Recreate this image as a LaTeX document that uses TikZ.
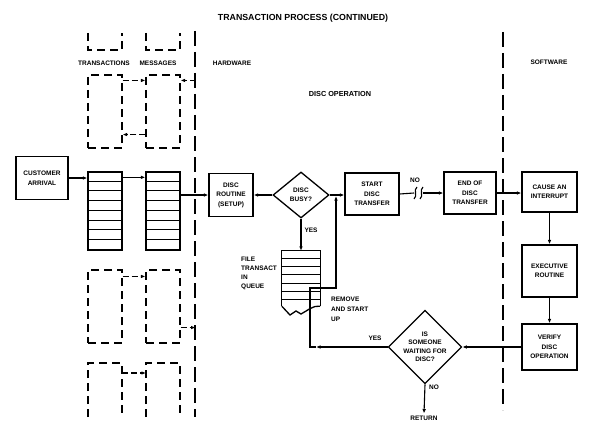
\documentclass[tikz,border=0pt]{standalone}
\usepackage{fontspec}
\setmainfont{Liberation Sans}
\usetikzlibrary{arrows.meta,shapes.geometric,calc}
\begin{document}
\begin{tikzpicture}[x=1pt,y=-1pt,
  txt/.style={font=\fontsize{6.5}{9}\selectfont\bfseries, inner sep=0pt, align=center},
  box/.style={draw, line width=1.3pt, inner sep=1pt, align=center, font=\fontsize{6.5}{9.5}\selectfont\bfseries},
  queue/.style={draw, line width=1.3pt, inner sep=0pt, minimum width=34pt, minimum height=78pt},
  rowline/.style={line width=0.9pt},
  ln/.style={line width=1.1pt},
  arr/.style={line width=1.1pt, -{Latex[length=4.5pt,width=3.6pt]}},
  dbox/.style={draw, line width=1.1pt, dash pattern=on 8pt off 5pt, inner sep=0pt, minimum width=34pt, minimum height=73pt},
  dln/.style={line width=1.1pt, dash pattern=on 8pt off 5pt},
  darr/.style={line width=1.1pt, dash pattern=on 6pt off 3pt, -{Latex[length=4.5pt,width=3.6pt]}},
  divider/.style={line width=1.5pt, dash pattern=on 15pt off 6pt},
  dmd/.style={draw, diamond, line width=1.3pt, inner sep=0pt, align=center, font=\fontsize{6.5}{8.5}\selectfont\bfseries}]
\useasboundingbox (0,0) rectangle (591,433);

% title and headings
\node[txt, font=\fontsize{8.8}{9}\selectfont\bfseries] (title) at (303,18) {TRANSACTION PROCESS (CONTINUED)};
\node[txt] (ltrans) at (104,63) {TRANSACTIONS};
\node[txt] (lmsg) at (158,63) {MESSAGES};
\node[txt] (lhw) at (232,63) {HARDWARE};
\node[txt] (lsw) at (549,62) {SOFTWARE};
\node[txt, font=\fontsize{7.3}{9}\selectfont\bfseries] (ldisc) at (340,94) {DISC OPERATION};

% dividers
\coordinate (dv1a) at (195,31);
\coordinate (dv1b) at (195,417);
\coordinate (dv2a) at (503,32);
\coordinate (dv2b) at (503,410);
\draw[divider] (dv1a) -- (dv1b);
\draw[divider] (dv2a) -- (dv2b);

% dashed boxes (other transactions / messages)
\draw[dln] (88,33) -- (88,50) -- (122,50) -- (122,33);
\draw[dln] (146,33) -- (146,50) -- (180,50) -- (180,33);
\node[dbox] (t2) at (105,111.5) {};
\node[dbox] (m2) at (163,111.5) {};
\draw[darr] ($(t2.north east)+(0,6)$) -- ($(m2.north west)+(0,6)$);
\draw[darr] ($(m2.north east)+(15,6)$) -- ($(m2.north east)+(0,6)$);
\draw[darr] ($(m2.south west)+(0,-14)$) -- ($(t2.south east)+(0,-14)$);
\node[dbox] (t3) at (105,306.5) {};
\node[dbox] (m3) at (163,306.5) {};
\draw[darr] ($(t3.north east)+(0,7)$) -- ($(m3.north west)+(0,7)$);
\draw[darr] ($(m3.south east)+(0,-16)$) -- ($(m3.south east)+(15,-16)$);
\draw[dln] (88,417) -- (88,363) -- (122,363) -- (122,417);
\draw[dln] (146,417) -- (146,363) -- (180,363) -- (180,417);
\coordinate (p4l) at (122,373);
\coordinate (p4r) at (146,373);
\draw[darr] (p4l) -- (p4r);

% main row
\node[box, minimum width=52pt, minimum height=43pt] (cust) at (42,178) {CUSTOMER\\ARRIVAL};
\node[queue] (q1) at (105,211) {};
\node[queue] (q2) at (163,211) {};
\foreach \q in {q1,q2}{
  \foreach \i in {1,...,7}{
    \draw[rowline] ($(\q.north west)+(0,\i*9.75)$) -- ($(\q.north east)+(0,\i*9.75)$);
  }
}
\node[box, minimum width=44pt, minimum height=43pt] (routine) at (231,195) {DISC\\ROUTINE\\(SETUP)};
\node[dmd, minimum width=56pt, minimum height=46pt] (busy) at (301,195) {DISC\\BUSY?};
\node[box, minimum width=54pt, minimum height=42pt] (start) at (372,194) {START\\DISC\\TRANSFER};
\node[box, minimum width=52pt, minimum height=42pt] (endd) at (470,193) {END OF\\DISC\\TRANSFER};
\node[box, minimum width=55pt, minimum height=40pt] (cause) at (549.5,192) {CAUSE AN\\INTERRUPT};
\node[box, minimum width=55pt, minimum height=52pt] (exec) at (549.5,271) {EXECUTIVE\\ROUTINE};
\node[box, minimum width=55pt, minimum height=46pt] (verify) at (549.5,347) {VERIFY\\DISC\\OPERATION};
\node[dmd, minimum width=70pt, minimum height=60pt] (wait) at (425,347) {IS\\SOMEONE\\WAITING FOR\\DISC?};
\node[txt, inner sep=2pt] (ret) at (424,418) {RETURN};

% file queue
\node[inner sep=0pt, minimum width=38pt, minimum height=55pt] (fq) at (301,278.5) {};
\draw[line width=1.3pt] (fq.south west) -- (fq.north west) -- (fq.north east) -- (fq.south east);
\foreach \d in {8,16,24,33,41,49}{
  \draw[rowline] ($(fq.north west)+(0,\d)$) -- ($(fq.north east)+(0,\d)$);
}
\draw[line width=1.3pt] (fq.south west) -- (290,315) -- (296,311) -- (301,314)
  .. controls (307,311) and (313,305) .. (fq.south east);
\node[txt, align=left, anchor=north west, font=\fontsize{6.5}{9}\selectfont\bfseries] (lfq) at (241,257) {FILE\\TRANSACT\\IN\\QUEUE};
\node[txt, align=left, anchor=north west, font=\fontsize{6.5}{10}\selectfont\bfseries] (lrem) at (331,297) {REMOVE\\AND START\\UP};

% connectors
\draw[arr] (cust.east) -- (cust.east -| q1.west);
\draw[arr] ($(q1.north east)+(0,6)$) -- ($(q2.north west)+(0,6)$);
\draw[arr] (routine.west -| q2.east) -- (routine.west);
\draw[arr] (busy.west) -- (routine.east);
\draw[arr] (busy.east) -- (busy.east -| start.west);
\draw[arr] (busy.south) -- (fq.north);
\node[txt] (lyes1) at (311,230) {YES};

\coordinate (b1) at (414,193);
\draw[ln] (start.east) -- (b1);
\draw[ln] ($(b1)+(0,6)$) .. controls ($(b1)+(4,3)$) and ($(b1)+(-1,-3)$) .. ($(b1)+(3,-6)$);
\draw[ln] ($(b1)+(6,6)$) .. controls ($(b1)+(10,3)$) and ($(b1)+(5,-3)$) .. ($(b1)+(9,-6)$);
\draw[arr] ($(b1)+(9,0)$) -- (endd.west);
\node[txt] (lno1) at (415,180) {NO};

\draw[arr] (endd.east) -- (endd.east -| cause.west);
\draw[arr] (cause.south) -- (exec.north);
\draw[arr] (exec.south) -- (verify.north);
\draw[arr] (verify.west) -- (wait.east);
\draw[arr] (wait.south) -- (ret.north);
\node[txt] (lno2) at (434,387) {NO};

\coordinate (c1) at (310,347);
\coordinate (c2) at (310,288);
\coordinate (c3) at (336,288);
\coordinate (c4) at (busy.east -| c3);
\draw[arr] (wait.west) -- ($(c1)+(6,0)$);
\draw[arr] ($(c1)+(6,0)$) -- (c1) -- (c2) -- (c3) -- ($(c4)+(0,1)$);
\node[txt] (lyes2) at (375,338) {YES};
\end{tikzpicture}
\end{document}
